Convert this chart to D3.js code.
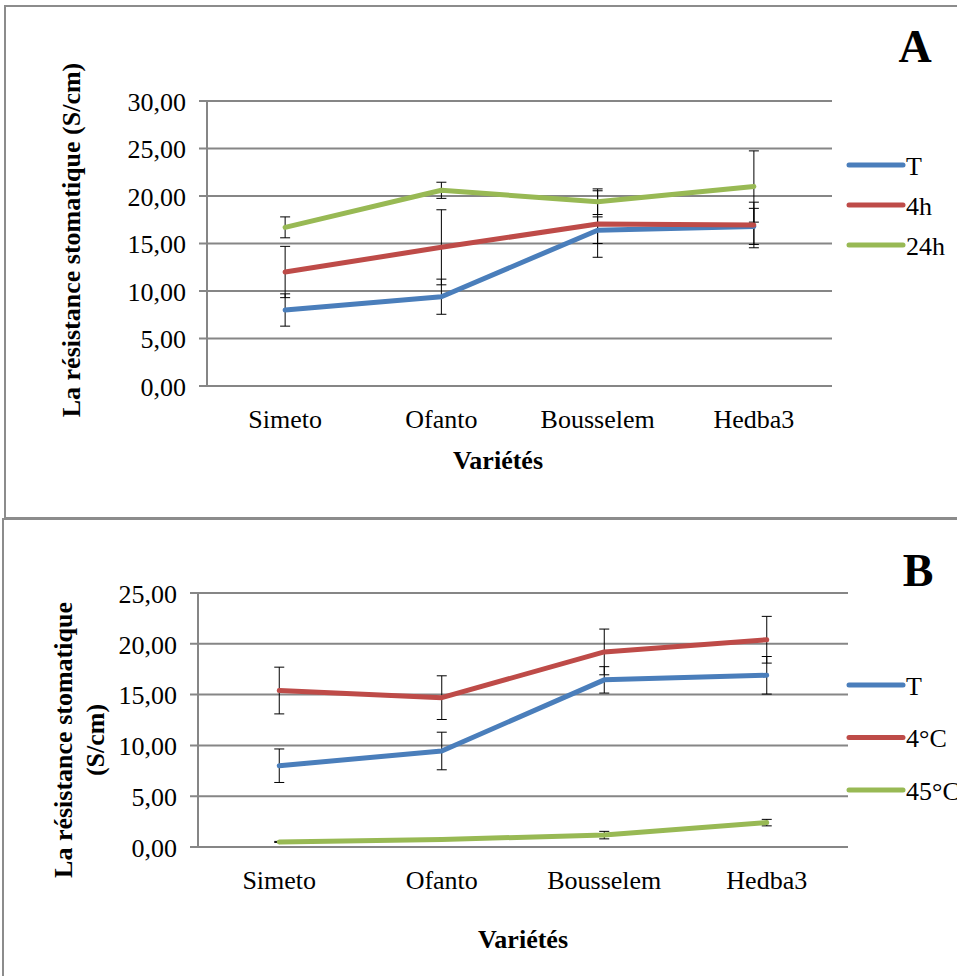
<!DOCTYPE html>
<html>
<head>
<meta charset="utf-8">
<script src="https://cdn.jsdelivr.net/npm/d3@7"></script>
<style>
  body { margin: 0; background: #fff; }
  text { font-family: "Liberation Serif", "Times New Roman", serif; fill: #000; }
</style>
</head>
<body>
<div id="chart"></div>
<script>
// varieties on the x axis
var varietes = ["Simeto", "Ofanto", "Bousselem", "Hedba3"];

// panel A : duree de stress
var seriesA = ["T", "4h", "24h"];
var valA_T   = [8.0, 9.4, 16.4, 16.8];
var valA_4h  = [12.0, 14.6, 17.05, 16.95];
var valA_24h = [16.7, 20.6, 19.4, 21.0];
var errA_T   = [1.7, 1.85, 1.4, 1.9];
var errA_4h  = [2.7, 3.95, 3.5, 2.4];
var errA_24h = [1.1, 0.85, 1.35, 3.75];
var ticksA = [0, 5, 10, 15, 20, 25, 30];

// panel B : temperature
var seriesB = ["T", "4°C", "45°C"];
var valB_T   = [8.0, 9.45, 16.45, 16.9];
var valB_4   = [15.4, 14.7, 19.2, 20.4];
var valB_45  = [0.5, 0.75, 1.17, 2.4];
var errB_T   = [1.65, 1.85, 1.3, 1.85];
var errB_4   = [2.3, 2.15, 2.25, 2.3];
var errB_45  = [0.05, 0, 0.37, 0.32];
var ticksB = [0, 5, 10, 15, 20, 25];

var colors = ["#4a7ebb", "#be4b48", "#98b954"];
var fmt = function(v) { return d3.format(".2f")(v).replace(".", ","); };
var fs = "26px";

var svg = d3.select("#chart").append("svg")
    .attr("width", 957)
    .attr("height", 976);

// panel borders
svg.append("rect").attr("x", 5).attr("y", 6).attr("width", 1000).attr("height", 512)
    .attr("fill", "none").attr("stroke", "#8c8c8c").attr("stroke-width", 2);
svg.append("rect").attr("x", 3).attr("y", 519).attr("width", 1000).attr("height", 500)
    .attr("fill", "none").attr("stroke", "#8c8c8c").attr("stroke-width", 2);

function drawPanel(p) {
  var g = svg.append("g");
  var x = d3.scaleBand().domain(varietes).range([p.left, p.right]);
  var y = d3.scaleLinear().domain([0, d3.max(p.ticks)]).range([p.bottom, p.top]);

  // gridlines + tick marks
  g.selectAll(".grid").data(p.ticks).enter().append("line")
    .attr("x1", p.left - 8).attr("x2", p.right)
    .attr("y1", function(d) { return y(d); }).attr("y2", function(d) { return y(d); })
    .attr("stroke", "#868686").attr("stroke-width", 2);
  g.append("line").attr("x1", p.left).attr("x2", p.left)
    .attr("y1", p.top).attr("y2", p.bottom)
    .attr("stroke", "#868686").attr("stroke-width", 2);

  g.selectAll(".ytick").data(p.ticks).enter().append("text")
    .attr("x", p.left - 21).attr("y", function(d) { return y(d); })
    .attr("dy", "0.38em").attr("text-anchor", "end")
    .style("font-size", fs).text(fmt);

  g.selectAll(".xtick").data(varietes).enter().append("text")
    .attr("x", function(d) { return x(d) + x.bandwidth() / 2; })
    .attr("y", p.bottom + 42).attr("text-anchor", "middle")
    .style("font-size", fs).text(function(d) { return d; });

  // x title
  g.append("text").attr("x", p.xTitleX).attr("y", p.xTitleY)
    .attr("text-anchor", "middle").style("font-size", fs).style("font-weight", "bold")
    .text("Variétés");

  // y title
  var yt = g.append("text")
    .attr("transform", "translate(" + p.yTitleX + "," + p.yTitleY + ") rotate(-90)")
    .attr("text-anchor", "middle").style("font-size", fs).style("font-weight", "bold");
  p.yTitle.forEach(function(line, i) {
    yt.append("tspan").attr("x", 0).attr("dy", i == 0 ? 0 : 32).text(line);
  });

  // panel letter
  g.append("text").attr("x", p.letterX).attr("y", p.letterY)
    .attr("text-anchor", "middle").style("font-size", "46px").style("font-weight", "bold")
    .text(p.letter);

  var line = d3.line()
    .x(function(d, i) { return x(varietes[i]) + x.bandwidth() / 2; })
    .y(function(d) { return y(d); });

  // error bars
  p.series.forEach(function(s, k) {
    p.values[k].forEach(function(v, i) {
      var e = p.errors[k][i];
      if (!e) return;
      var cx = x(varietes[i]) + x.bandwidth() / 2;
      var eb = g.append("g").attr("stroke", "#000").attr("stroke-width", 1);
      eb.append("line").attr("x1", cx).attr("x2", cx).attr("y1", y(v - e)).attr("y2", y(v + e));
      eb.append("line").attr("x1", cx - 5).attr("x2", cx + 5).attr("y1", y(v - e)).attr("y2", y(v - e));
      eb.append("line").attr("x1", cx - 5).attr("x2", cx + 5).attr("y1", y(v + e)).attr("y2", y(v + e));
    });
  });

  // series lines
  p.series.forEach(function(s, k) {
    g.append("path").datum(p.values[k])
      .attr("d", line).attr("fill", "none")
      .attr("stroke", colors[k]).attr("stroke-width", 5)
      .attr("stroke-linecap", "round").attr("stroke-linejoin", "round");
  });

  // legend
  p.series.forEach(function(s, k) {
    var ly = p.legendY + k * p.legendGap;
    g.append("line").attr("x1", p.legendX).attr("x2", p.legendX + 54)
      .attr("y1", ly).attr("y2", ly)
      .attr("stroke", colors[k]).attr("stroke-width", 5).attr("stroke-linecap", "round");
    g.append("text").attr("x", p.legendX + 57).attr("y", ly).attr("dy", "0.38em")
      .style("font-size", fs).text(s);
  });
}

drawPanel({
  left: 207, right: 832, top: 101, bottom: 386, ticks: ticksA,
  series: seriesA, values: [valA_T, valA_4h, valA_24h], errors: [errA_T, errA_4h, errA_24h],
  yTitle: ["La résistance stomatique (S/cm)"], yTitleX: 80, yTitleY: 240,
  xTitleX: 498, xTitleY: 469, letter: "A", letterX: 915, letterY: 62,
  legendX: 849, legendY: 165, legendGap: 40
});

drawPanel({
  left: 198, right: 848, top: 593, bottom: 847, ticks: ticksB,
  series: seriesB, values: [valB_T, valB_4, valB_45], errors: [errB_T, errB_4, errB_45],
  yTitle: ["La résistance stomatique", "(S/cm)"], yTitleX: 72, yTitleY: 740,
  xTitleX: 523, xTitleY: 948, letter: "B", letterX: 918, letterY: 586,
  legendX: 849, legendY: 685, legendGap: 52.5
});
</script>
</body>
</html>
